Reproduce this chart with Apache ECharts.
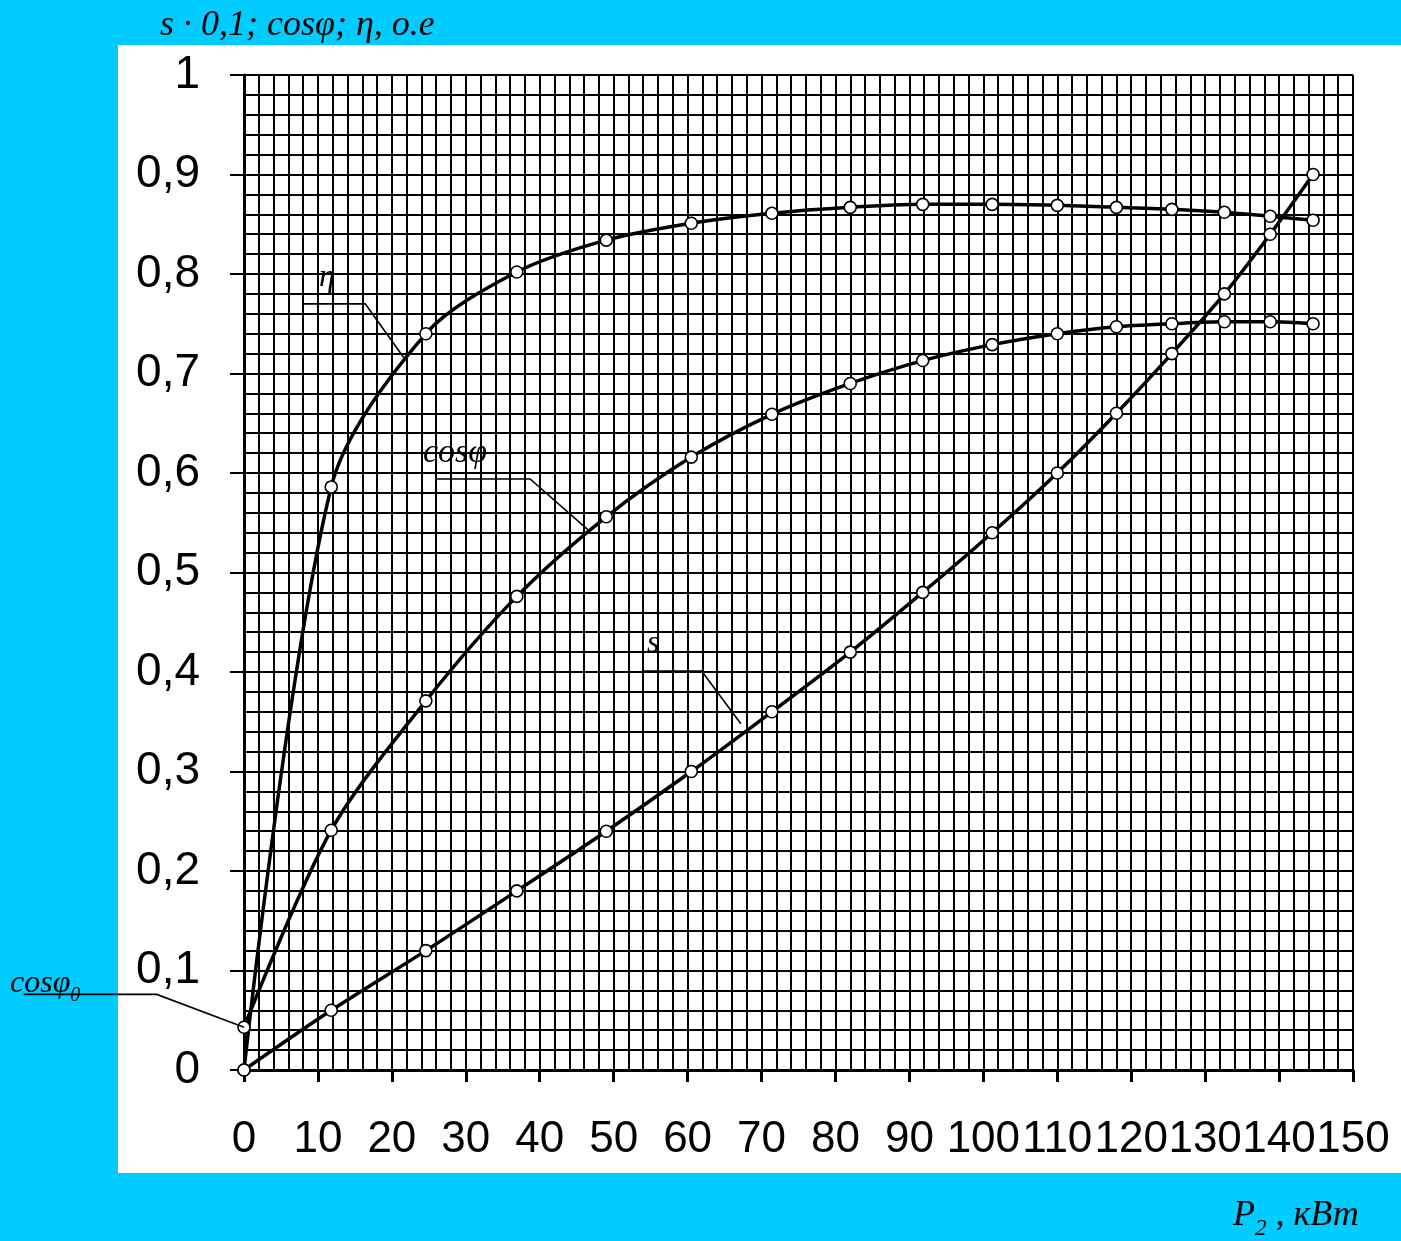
<!DOCTYPE html>
<html>
<head>
<meta charset="utf-8">
<script src="https://cdn.jsdelivr.net/npm/echarts@6/dist/echarts.min.js"></script>
<style>
  html, body { margin: 0; padding: 0; background: #00ccff; }
  #chart { width: 1401px; height: 1241px; }
</style>
</head>
<body>
<div id="chart"></div>
<script>
// P2, kW - output power at each measured point
const power = [0, 11.8, 24.6, 36.9, 49.0, 60.5, 71.4, 82.0, 91.8, 101.2, 110.0, 118.0, 125.5, 132.6, 138.8, 144.6];
// efficiency, p.u.
const efficiency = [0, 0.586, 0.740, 0.802, 0.834, 0.851, 0.861, 0.867, 0.870, 0.870, 0.869, 0.867, 0.865, 0.862, 0.858, 0.854];
// power factor
const powerFactor = [0.043, 0.241, 0.371, 0.476, 0.556, 0.616, 0.659, 0.690, 0.713, 0.729, 0.740, 0.747, 0.750, 0.752, 0.752, 0.750];
// slip x 0.1
const slip = [0, 0.06, 0.12, 0.18, 0.24, 0.30, 0.36, 0.42, 0.48, 0.54, 0.60, 0.66, 0.72, 0.78, 0.84, 0.90];

// leader lines for curve captions (data coordinates)
const etaLeader = [[8.1, 0.770], [16.4, 0.770], [21.6, 0.716]];
const cosLeader = [[26.1, 0.594], [38.7, 0.594], [46.5, 0.543]];
const slipLeader = [[53.8, 0.401], [61.9, 0.401], [67.2, 0.348]];
const cos0Leader = [[-29.8, 0.076], [-11.8, 0.076], [0, 0.043]];

const yTicks = [0, 0.1, 0.2, 0.3, 0.4, 0.5, 0.6, 0.7, 0.8, 0.9, 1];

const serif = '"Liberation Serif", "DejaVu Serif", serif';
const sans = '"Liberation Sans", Arial, sans-serif';

const zip = (xs, ys) => xs.map((x, i) => [x, ys[i]]);

function curve(name, values) {
  return {
    name: name,
    type: 'line',
    data: zip(power, values),
    smooth: 0.3,
    symbol: 'circle',
    symbolSize: 12,
    lineStyle: { color: '#000', width: 3.5 },
    itemStyle: { color: '#fff', borderColor: '#000', borderWidth: 1.6 },
    z: 5
  };
}

const chart = echarts.init(document.getElementById('chart'));
chart.setOption({
  animation: false,
  backgroundColor: '#00ccff',
  grid: { left: 244, right: 48, top: 75, bottom: 171 },
  xAxis: {
    type: 'value',
    min: 0,
    max: 150,
    interval: 10,
    axisLine: { show: true, lineStyle: { color: '#000', width: 3 } },
    axisTick: { show: true, length: 12, lineStyle: { color: '#000', width: 3 } },
    minorTick: { show: false, splitNumber: 5 },
    splitLine: { show: true, lineStyle: { color: '#000', width: 2 } },
    minorSplitLine: { show: true, lineStyle: { color: '#000', width: 2 } },
    axisLabel: { color: '#000', fontFamily: sans, fontSize: 44, margin: 48 }
  },
  yAxis: {
    type: 'value',
    min: 0,
    max: 1,
    interval: 0.1,
    axisLine: { show: true, lineStyle: { color: '#000', width: 3 } },
    axisTick: { show: true, length: 14, lineStyle: { color: '#000', width: 2 } },
    minorTick: { show: false, splitNumber: 5 },
    splitLine: { show: true, lineStyle: { color: '#000', width: 2 } },
    minorSplitLine: { show: true, lineStyle: { color: '#000', width: 2 } },
    axisLabel: {
      color: '#000', fontFamily: sans, fontSize: 46, margin: 44,
      formatter: v => {
        const t = yTicks.find(k => Math.abs(k - v) < 1e-6);
        return t === undefined ? '' : String(t).replace('.', ',');
      }
    }
  },
  series: [
    curve('η', efficiency),
    curve('cosφ', powerFactor),
    curve('s', slip)
  ]
});

// caption leader lines, placed through the grid's own scale
const toPx = pts => pts.map(p => chart.convertToPixel({ gridIndex: 0 }, p));
const leaders = [etaLeader, cosLeader, slipLeader, cos0Leader].map(pts => ({
  type: 'polyline', z: 50, silent: true,
  shape: { points: toPx(pts) },
  style: { stroke: '#000', lineWidth: 1.6, fill: null }
}));

chart.setOption({
  graphic: [
    { type: 'rect', z: -10, silent: true, shape: { x: 118, y: 45, width: 1283, height: 1128 }, style: { fill: '#fff' } },
    { type: 'text', z: 100, left: 160, top: 8, style: {
        text: 's · 0,1; cosφ; η, o.e', fill: '#000', font: 'italic 36px ' + serif } },
    { type: 'text', z: 100, left: 1233, top: 1198, style: {
        text: '{p|P}{sub|2}{p| , кВт}', fill: '#000',
        rich: {
          p: { font: 'italic 36px ' + serif, fill: '#000', verticalAlign: 'bottom' },
          sub: { font: 'italic 23px ' + serif, fill: '#000', verticalAlign: 'bottom', padding: [0, 0, -6, 0] }
        } } },
    { type: 'text', z: 100, left: 319, top: 262, style: { text: 'η', fill: '#000', font: 'italic 32px ' + serif } },
    { type: 'text', z: 100, left: 423, top: 436, style: { text: 'cosφ', fill: '#000', font: 'italic 34px ' + serif } },
    { type: 'text', z: 100, left: 647, top: 628, style: { text: 's', fill: '#000', font: 'italic 32px ' + serif } },
    { type: 'text', z: 100, left: 10, top: 968, style: {
        text: '{c|cosφ}{sub|0}', fill: '#000',
        rich: {
          c: { font: 'italic 32px ' + serif, fill: '#000', verticalAlign: 'bottom' },
          sub: { font: 'italic 20px ' + serif, fill: '#000', verticalAlign: 'bottom', padding: [0, 0, -6, 0] }
        } } }
  ].concat(leaders)
});
</script>
</body>
</html>
